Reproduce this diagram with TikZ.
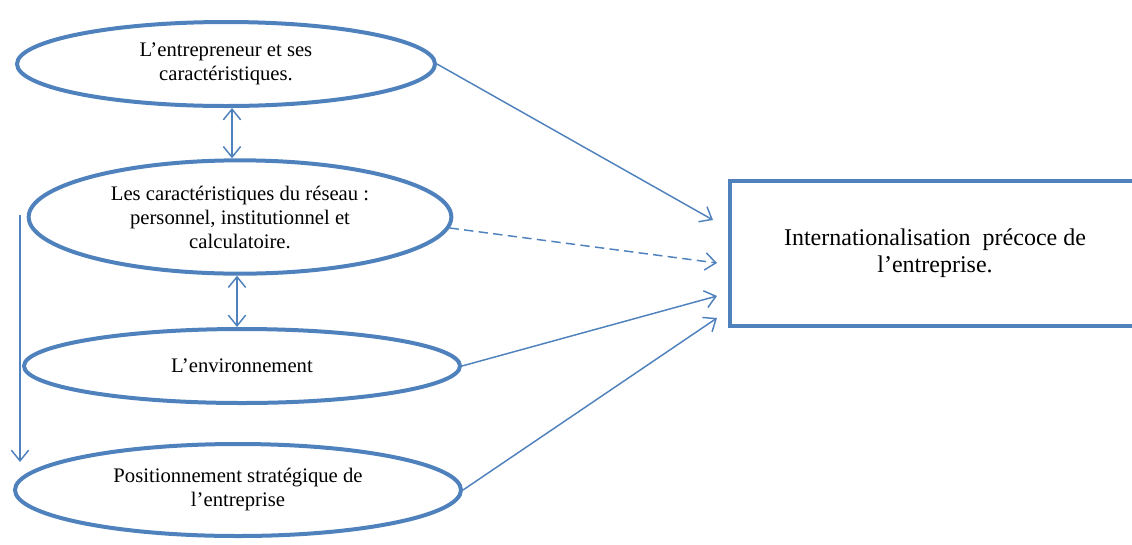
\documentclass[tikz,border=0pt]{standalone}
\usepackage{fontspec}
\setmainfont{Liberation Serif}
\usetikzlibrary{shapes.geometric, arrows.meta}
\definecolor{ofblue}{RGB}{79,129,189}

\begin{document}
\begin{tikzpicture}[
    x=0.75pt, y=-0.75pt,
    factor/.style  = {ellipse, draw=ofblue, line width=3pt, align=center, inner sep=0pt, font=\fontsize{15.5}{18}\selectfont},
    outcome/.style = {rectangle, draw=ofblue, line width=3pt, align=center, inner sep=0pt, font=\fontsize{18}{20.5}\selectfont},
    arrow/.style   = {-{Straight Barb[length=8pt, width=13pt]}, draw=ofblue, line width=1.1pt},
    both/.style    = {{Straight Barb[length=8pt, width=13pt]}-{Straight Barb[length=8pt, width=13pt]}, draw=ofblue, line width=1.1pt}
]
\useasboundingbox (0,0) rectangle (1132,544);
\node[factor, minimum width=313.5pt, minimum height=63pt] (E1) at (226,64)
  {L’entrepreneur et ses\\caractéristiques.};
\node[factor, minimum width=317pt, minimum height=85pt] (E2) at (240,217)
  {Les caractéristiques du réseau :\\personnel, institutionnel et\\calculatoire.};
\node[factor, minimum width=327pt, minimum height=55.5pt] (E3) at (242,366)
  {L’environnement};
\node[factor, minimum width=334.5pt, minimum height=69pt] (E4) at (238,490)
  {Positionnement stratégique de\\l’entreprise};
\node[outcome, minimum width=307.5pt, minimum height=108.75pt] (R) at (935,253.5)
  {Internationalisation \ précoce de\\l’entreprise.};
% arrow ends in front of the box
\coordinate (in1) at (713,220);
\coordinate (in2) at (717,263);
\coordinate (in3) at (717,296);
\coordinate (in4) at (717,318);
\coordinate (v1) at (232,0);
\coordinate (v2) at (237,0);
\coordinate (top) at (20,215);
\coordinate (bot) at (20,462);
\draw[arrow] (E1.east) -- (in1);
\draw[arrow, dashed, dash pattern=on 7pt off 4pt] (E2.-3.5) -- (in2);
\draw[arrow] (E3.east) -- (in3);
\draw[arrow] (E4.east) -- (in4);
\draw[both] (E1.south -| v1) -- (E2.north -| v1);
\draw[both] (E2.south -| v2) -- (E3.north -| v2);
\draw[arrow] (top) -- (bot);
\end{tikzpicture}
\end{document}
